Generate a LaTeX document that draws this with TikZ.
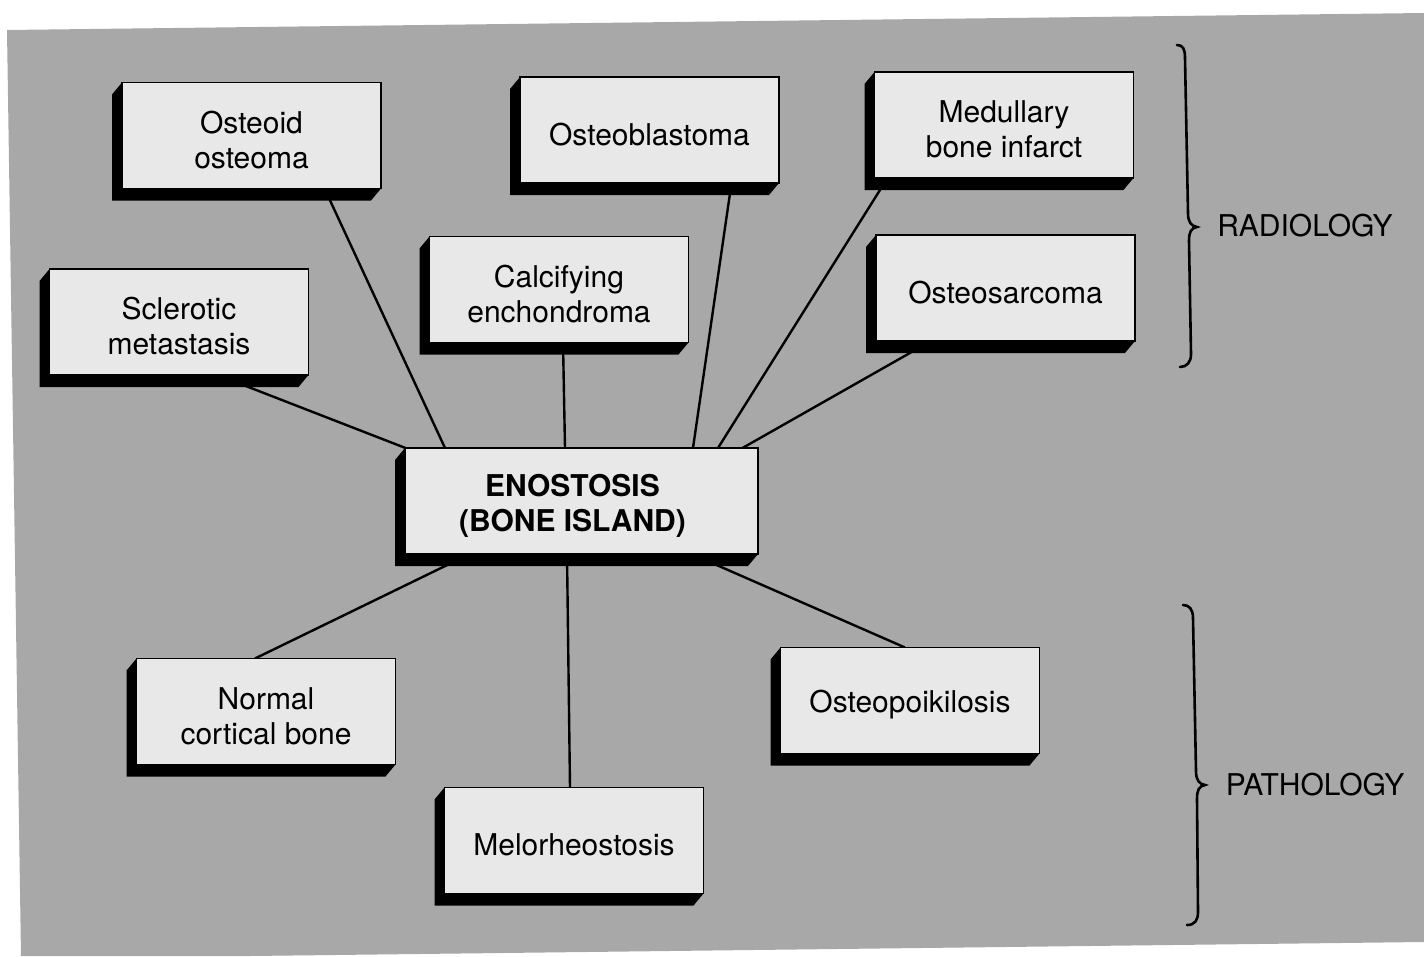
\documentclass[tikz,border=0pt]{standalone}
\usepackage{fontspec}
\setmainfont{TeX Gyre Heros}
\usetikzlibrary{calc}
\pgfdeclarelayer{back}
\pgfdeclarelayer{links}
\pgfdeclarelayer{shade}
\pgfsetlayers{back,links,shade,main}
\definecolor{cloth}{gray}{0.66}
\definecolor{card}{gray}{0.91}
\tikzset{
  block/.style={draw=black, line width=1.2pt, fill=card,
    minimum width=259pt, minimum height=106pt, inner sep=0pt, outer sep=0pt},
  wide/.style={minimum width=353pt},
  caption/.style={inner sep=0pt, align=center, font=\fontsize{30}{35}\selectfont},
  boldcaption/.style={caption, font=\bfseries\fontsize{30}{35}\selectfont},
  link/.style={line width=2.4pt, draw=black},
  bracket/.style={line width=2.6pt, draw=black, line cap=round},
  side/.style={inner sep=0pt, font=\fontsize{30}{35}\selectfont}
}
% a raised card: light face with a black extrusion to the lower left
\newcommand\bonecard[3][]{%
  \node[block,#1] (#2) at (#3) {};
  \begin{pgfonlayer}{shade}
    \fill[black] (#2.north west) -- ++(-10,12)
      -- ([shift={(-10,12)}]#2.south west)
      -- ([shift={(-10,12)}]#2.south east)
      -- (#2.south east) -- cycle;
  \end{pgfonlayer}}
% card with its caption set a little below the middle
\newcommand\bonebox[3]{%
  \bonecard{#1}{#2}
  \node[caption] (#1-t) at ([yshift=-4.5pt]#1.center) {#3};}
\begin{document}
\begin{tikzpicture}[x=1pt,y=-1pt]
\useasboundingbox (0,0) rectangle (1424,956);
\begin{pgfonlayer}{back}
  \fill[cloth] (7,30) -- (1424,13) -- (1424,942) -- (250,956) -- (21,956) -- cycle;
\end{pgfonlayer}

% differential diagnoses
\bonebox{oo}{251.5,135.5}{Osteoid\\osteoma}
\bonebox{ob}{649.5,130}{Osteoblastoma}
\bonebox{mbi}{1004,125}{Medullary\\bone infarct}
\bonebox{sm}{179,322}{Sclerotic\\metastasis}
\bonebox{ce}{559,289.5}{Calcifying\\enchondroma}
\bonebox{os}{1005.5,288}{Osteosarcoma}
\bonebox{ncb}{266,711.5}{Normal\\cortical bone}
\bonebox{op}{910,700.5}{Osteopoikilosis}
\bonebox{mel}{574,840.5}{Melorheostosis}

% central card
\bonecard[wide]{en}{581.5,501}
\node[boldcaption] (en-t) at ([xshift=-9pt,yshift=-4.5pt]en.center) {ENOSTOSIS\\(BONE ISLAND)};

% connectors to the central card
\begin{pgfonlayer}{links}
  \draw[link] ([xshift=73]oo.south)    -- ([xshift=-136.5]en.north);
  \draw[link] ([xshift=38.5]sm.south)  -- ([xshift=-176]en.north);
  \draw[link] ([xshift=4]ce.south)     -- ([xshift=-16.5]en.north);
  \draw[link] ([xshift=82]ob.south)    -- ([xshift=111.5]en.north);
  \draw[link] ([xshift=-116.5]mbi.south) -- ([xshift=136.5]en.north);
  \draw[link] ([xshift=-74.5]os.south) -- ([xshift=161]en.north);
  \draw[link] ([xshift=-111.7]en.south) -- ([xshift=-11]ncb.north);
  \draw[link] ([xshift=-14.5]en.south) -- ([xshift=-4]mel.north);
  \draw[link] ([xshift=110]en.south)   -- ([xshift=-5]op.north);
\end{pgfonlayer}

% grouping braces
\draw[bracket] (1177,45) .. controls (1183,45) and (1185,49) .. (1185,58)
  -- (1188,213) .. controls (1188,222) and (1191,226) .. (1197,227)
  .. controls (1191,228) and (1189,232) .. (1189,241)
  -- (1191,354) .. controls (1191,362) and (1187,367) .. (1180,367);
\node[side] (rad) at (1305,226) {RADIOLOGY};

\draw[bracket] (1183,605) .. controls (1189,605) and (1193,609) .. (1193,618)
  -- (1196,771) .. controls (1196,780) and (1199,784) .. (1205,785)
  .. controls (1199,786) and (1197,790) .. (1197,799)
  -- (1198,912) .. controls (1198,920) and (1195,925) .. (1187,925);
\node[side] (pat) at (1315,785) {PATHOLOGY};
\end{tikzpicture}
\end{document}
